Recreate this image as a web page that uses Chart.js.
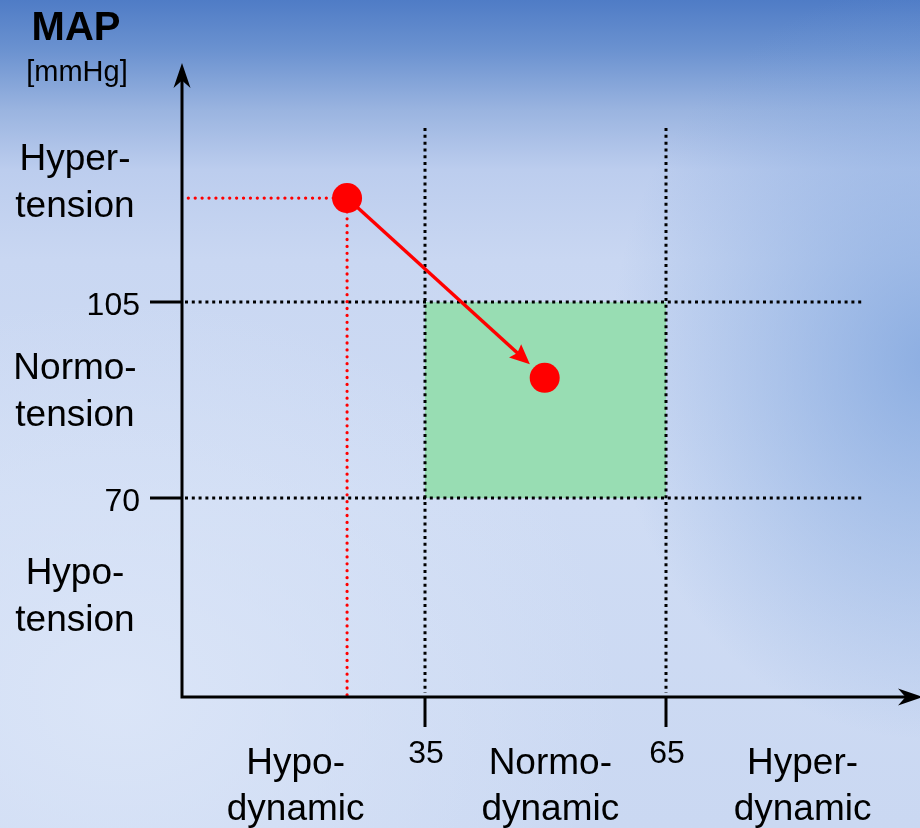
<!DOCTYPE html>
<html>
<head>
<meta charset="utf-8">
<script src="https://cdn.jsdelivr.net/npm/chart.js@4.4.1/dist/chart.umd.min.js"></script>
<style>
  html, body { margin: 0; padding: 0; }
  body {
    width: 920px; height: 828px; overflow: hidden;
    background:
      radial-gradient(ellipse 320px 380px at 930px 360px, rgba(120,160,220,0.75), rgba(120,160,220,0) 100%),
      radial-gradient(ellipse 500px 400px at 120px 700px, rgba(220,230,248,0.9), rgba(220,230,248,0) 100%),
      linear-gradient(to bottom, #4f7cc6 0px, #6b92d0 50px, #9ab4e0 110px, #bccdee 170px, #c9d7f2 260px, #cfdcf4 500px, #cad8f2 828px);
  }
  #wrap { position: absolute; left: 0; top: 0; width: 920px; height: 828px; }
</style>
</head>
<body>
<div id="wrap"><canvas id="myChart"></canvas></div>
<script>
// values (x = cardiac index-like axis, y = MAP in mmHg)
const xTicks = [35, 65];
const yTicks = [105, 70];
const xCategories = [['Hypo-', 'dynamic'], ['Normo-', 'dynamic'], ['Hyper-', 'dynamic']];
const xCategoryPos = [18.9, 50.6, 82];
const yCategories = [['Hyper-', 'tension'], ['Normo-', 'tension'], ['Hypo-', 'tension']];
const yCategoryPos = [124.4, 87.1, 50.4];
const pointsX = [25.3, 49.9];
const pointsY = [123.6, 91.5];
const normalBox = { x0: 35, x1: 65, y0: 70, y1: 105 };

const xMin = 4.75, xMax = 96;
const yMin = 34.5, yMax = 147.36;
const gridXEnd = 89.4;   // end of horizontal dotted lines
const gridYTop = 136.1;  // top of vertical dotted lines

function arrowHead(ctx, tx, ty, angle, len, half, notch) {
    ctx.save();
    ctx.translate(tx, ty);
    ctx.rotate(angle);
    ctx.beginPath();
    ctx.moveTo(0, 0);
    ctx.lineTo(-len, -half);
    ctx.lineTo(-len * notch, 0);
    ctx.lineTo(-len, half);
    ctx.closePath();
    ctx.fill();
    ctx.restore();
}

const diagramPlugin = {
    id: 'diagram',
    beforeDatasetsDraw(chart) {
        const ctx = chart.ctx;
        const xs = chart.scales.x, ys = chart.scales.y;
        const area = chart.chartArea;
        ctx.save();
        // normal range box
        ctx.fillStyle = 'rgb(152,221,179)';
        const bx0 = xs.getPixelForValue(normalBox.x0), bx1 = xs.getPixelForValue(normalBox.x1);
        const by0 = ys.getPixelForValue(normalBox.y1), by1 = ys.getPixelForValue(normalBox.y0);
        ctx.fillRect(bx0, by0, bx1 - bx0, by1 - by0);

        // black dotted lines
        ctx.strokeStyle = '#000';
        ctx.lineWidth = 3;
        ctx.setLineDash([3, 3.8]);
        yTicks.forEach(v => {
            const y = Math.round(ys.getPixelForValue(v));
            ctx.beginPath();
            ctx.moveTo(area.left + 3, y);
            ctx.lineTo(xs.getPixelForValue(gridXEnd), y);
            ctx.stroke();
        });
        xTicks.forEach(v => {
            const x = Math.round(xs.getPixelForValue(v));
            ctx.beginPath();
            ctx.moveTo(x, ys.getPixelForValue(gridYTop));
            ctx.lineTo(x, area.bottom - 4);
            ctx.stroke();
        });

        // red dotted guides from first point
        const px = xs.getPixelForValue(pointsX[0]), py = ys.getPixelForValue(pointsY[0]);
        ctx.strokeStyle = '#ff0000';
        ctx.lineWidth = 3.2;
        ctx.lineCap = 'round';
        ctx.setLineDash([0.1, 6.8]);
        ctx.beginPath();
        ctx.moveTo(px, py);
        ctx.lineTo(area.left + 3, py);
        ctx.moveTo(px, py);
        ctx.lineTo(px, area.bottom - 2);
        ctx.stroke();
        ctx.restore();

        // arrow between the two states
        const qx = xs.getPixelForValue(pointsX[1]), qy = ys.getPixelForValue(pointsY[1]);
        const ang = Math.atan2(qy - py, qx - px);
        const tipX = qx - Math.cos(ang) * 20, tipY = qy - Math.sin(ang) * 20;
        ctx.save();
        ctx.strokeStyle = '#ff0000';
        ctx.fillStyle = '#ff0000';
        ctx.lineWidth = 3.4;
        ctx.beginPath();
        ctx.moveTo(px, py);
        ctx.lineTo(tipX - Math.cos(ang) * 12, tipY - Math.sin(ang) * 12);
        ctx.stroke();
        arrowHead(ctx, tipX, tipY, ang, 20, 9, 0.85);
        ctx.restore();
    },
    afterDraw(chart) {
        const ctx = chart.ctx;
        const xs = chart.scales.x, ys = chart.scales.y;
        const area = chart.chartArea;
        ctx.save();
        ctx.strokeStyle = '#000';
        ctx.fillStyle = '#000';
        ctx.lineWidth = 3;
        ctx.setLineDash([]);
        // axes
        ctx.beginPath();
        ctx.moveTo(area.left, area.top + 10);
        ctx.lineTo(area.left, area.bottom);
        ctx.lineTo(chart.width - 8, area.bottom);
        ctx.stroke();
        arrowHead(ctx, area.left, area.top - 2, -Math.PI / 2, 25, 8.5, 0.7);
        arrowHead(ctx, chart.width + 3, area.bottom, 0, 25, 8.5, 0.7);

        // tick marks
        yTicks.forEach(v => {
            const y = Math.round(ys.getPixelForValue(v));
            ctx.beginPath();
            ctx.moveTo(area.left - 32, y);
            ctx.lineTo(area.left, y);
            ctx.stroke();
        });
        xTicks.forEach(v => {
            const x = Math.round(xs.getPixelForValue(v));
            ctx.beginPath();
            ctx.moveTo(x, area.bottom);
            ctx.lineTo(x, area.bottom + 30);
            ctx.stroke();
        });

        // tick labels
        ctx.font = '32px "Liberation Sans", Arial, sans-serif';
        ctx.textBaseline = 'alphabetic';
        ctx.textAlign = 'right';
        yTicks.forEach(v => {
            ctx.fillText(String(v), area.left - 42, ys.getPixelForValue(v) + 13);
        });
        ctx.textAlign = 'center';
        xTicks.forEach(v => {
            ctx.fillText(String(v), xs.getPixelForValue(v) + 1, area.bottom + 66);
        });

        // category labels
        ctx.font = '37px "Liberation Sans", Arial, sans-serif';
        yCategories.forEach((lines, i) => {
            const y = ys.getPixelForValue(yCategoryPos[i]);
            ctx.fillText(lines[0], 75, y - 23.5);
            ctx.fillText(lines[1], 75, y + 23.5);
        });
        xCategories.forEach((lines, i) => {
            const x = xs.getPixelForValue(xCategoryPos[i]);
            ctx.fillText(lines[0], x, area.bottom + 77);
            ctx.fillText(lines[1], x, area.bottom + 123);
        });

        // axis title
        ctx.font = 'bold 40px "Liberation Sans", Arial, sans-serif';
        ctx.fillText('MAP', 76, 40);
        ctx.font = '29px "Liberation Sans", Arial, sans-serif';
        ctx.fillText('[mmHg]', 77, 81);
        ctx.restore();
    }
};

const ctx = document.getElementById('myChart').getContext('2d');
new Chart(ctx, {
    type: 'scatter',
    data: {
        datasets: [{
            label: 'MAP',
            data: pointsX.map((x, i) => ({ x: x, y: pointsY[i] })),
            backgroundColor: '#ff0000',
            borderColor: '#ff0000',
            borderWidth: 0,
            pointRadius: 15,
            pointHoverRadius: 15
        }]
    },
    options: {
        responsive: true,
        maintainAspectRatio: false,
        animation: false,
        events: [],
        layout: { autoPadding: false, padding: { left: 182, right: 5, top: 65, bottom: 131 } },
        plugins: {
            legend: { display: false },
            tooltip: { enabled: false }
        },
        scales: {
            x: { type: 'linear', min: xMin, max: xMax, display: false },
            y: { type: 'linear', min: yMin, max: yMax, display: false }
        }
    },
    plugins: [diagramPlugin]
});
</script>
</body>
</html>
